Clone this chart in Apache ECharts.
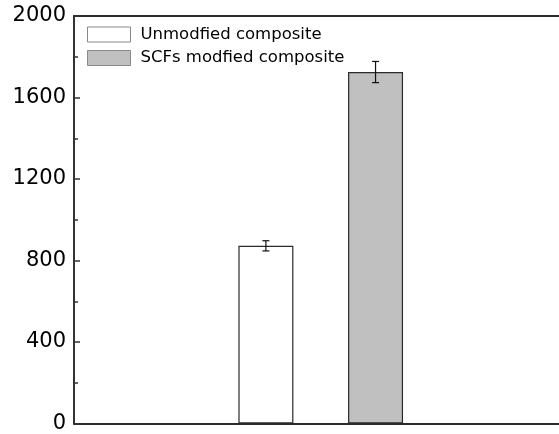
<!DOCTYPE html>
<html>
<head>
<meta charset="utf-8">
<script src="https://cdn.jsdelivr.net/npm/echarts@6/dist/echarts.min.js"></script>
<style>html,body{margin:0;padding:0;background:#fff}#c{width:559px;height:434px}</style>
</head>
<body>
<div id="c"></div>
<script>
const seriesNames = ['Unmodfied composite', 'SCFs modfied composite'];
const xPositions = [1, 2];
const meanValues = [872, 1725];
const errValues = [25, 52];
const yTicks = [0, 400, 800, 1200, 1600, 2000];

const chart = echarts.init(document.getElementById('c'), null, {renderer: 'canvas'});
const fills = ['#ffffff', '#c0c0c0'];
const FONT = '"DejaVu Sans", sans-serif';

const barSeries = seriesNames.map((name, i) => ({
  name: name,
  type: 'bar',
  xAxisIndex: 0,
  yAxisIndex: 0,
  barWidth: 55,
  barGap: '-100%',
  data: [[xPositions[i], meanValues[i]]],
  itemStyle: {color: fills[i], borderColor: '#2a2a2a', borderWidth: 1.2},
  emphasis: {disabled: true},
  z: 2
}));

const errSeries = {
  type: 'custom',
  xAxisIndex: 0,
  yAxisIndex: 0,
  silent: true,
  z: 5,
  data: xPositions.map((x, i) => [x, meanValues[i] - errValues[i], meanValues[i] + errValues[i]]),
  renderItem: function (params, api) {
    const x = api.value(0);
    const lo = api.coord([x, api.value(1)]);
    const hi = api.coord([x, api.value(2)]);
    const hw = 3.5;
    const st = {stroke: '#111', lineWidth: 1.2};
    return {
      type: 'group',
      children: [
        {type: 'line', shape: {x1: lo[0], y1: lo[1], x2: hi[0], y2: hi[1]}, style: st},
        {type: 'line', shape: {x1: lo[0] - hw, y1: lo[1], x2: lo[0] + hw, y2: lo[1]}, style: st},
        {type: 'line', shape: {x1: hi[0] - hw, y1: hi[1], x2: hi[0] + hw, y2: hi[1]}, style: st}
      ]
    };
  }
};

chart.setOption({
  animation: false,
  backgroundColor: '#fff',
  grid: {left: 74, right: -2, top: 16, bottom: 8.5, containLabel: false},
  legend: {
    orient: 'vertical',
    left: 87,
    top: 26,
    padding: 0,
    itemWidth: 43,
    itemHeight: 15,
    itemGap: 6.5,
    icon: 'rect',
    textStyle: {fontFamily: FONT, fontSize: 16.5, color: '#000', padding: [0, 0, 0, 5]},
    data: seriesNames.map((n, i) => ({
      name: n,
      itemStyle: {color: fills[i], borderColor: '#888', borderWidth: 1}
    })),
    selectedMode: false
  },
  xAxis: [
    {
      type: 'value', min: -0.75, max: 3.673, position: 'bottom',
      axisLine: {show: true, onZero: false, lineStyle: {color: '#2a2a2a', width: 2}},
      axisTick: {show: false}, axisLabel: {show: false}, splitLine: {show: false}
    },
    {
      type: 'value', min: -0.75, max: 3.673, position: 'top',
      axisLine: {show: true, onZero: false, lineStyle: {color: '#2a2a2a', width: 2}},
      axisTick: {show: false}, axisLabel: {show: false}, splitLine: {show: false}
    }
  ],
  yAxis: {
    type: 'value', min: yTicks[0], max: yTicks[yTicks.length - 1], interval: 400,
    position: 'left',
    axisLine: {show: true, onZero: false, lineStyle: {color: '#333', width: 2}},
    axisTick: {show: true, inside: true, length: 6, lineStyle: {color: '#333', width: 1.5}},
    minorTick: {show: true, splitNumber: 2, length: 4, lineStyle: {color: '#333', width: 1.5}},
    axisLabel: {fontFamily: FONT, fontSize: 21, color: '#000', margin: 8, formatter: v => String(v)},
    splitLine: {show: false}
  },
  series: [...barSeries, errSeries]
});
</script>
</body>
</html>
